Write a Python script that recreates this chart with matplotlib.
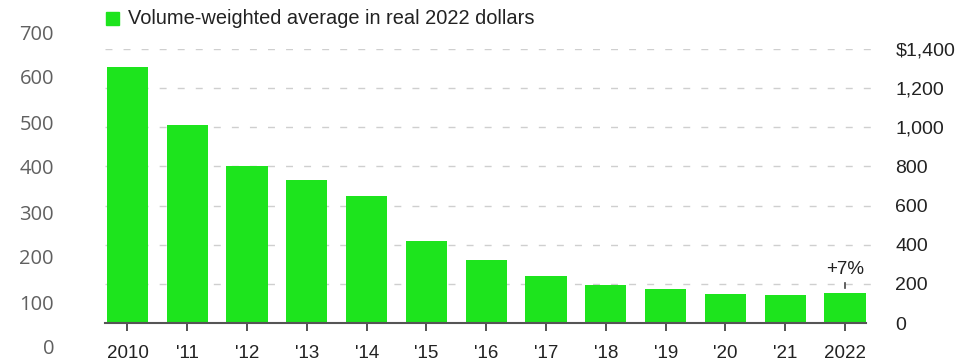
import matplotlib
matplotlib.use("Agg")
import matplotlib.pyplot as plt
import numpy as np

years = ["2010", "'11", "'12", "'13", "'14", "'15", "'16", "'17", "'18", "'19", "'20", "'21", "2022"]
prices = [1308, 1012, 800, 732, 650, 419, 320, 242, 194, 176, 146, 141, 151]
right_ticks = [0, 200, 400, 600, 800, 1000, 1200, 1400]
right_labels = ["0", "200", "400", "600", "800", "1,000", "1,200", "$1,400"]
left_ticks = [0, 100, 200, 300, 400, 500, 600, 700]
legend_label = "Volume-weighted average in real 2022 dollars"
annotation = "+7%"

W, H = 975, 361
fig = plt.figure(figsize=(W / 100, H / 100), dpi=100)
GREEN = "#1de41d"

def px_axes(x0, y0, x1, y1):
    # pixel coords from top-left
    return [x0 / W, 1 - y1 / H, (x1 - x0) / W, (y1 - y0) / H]

# left ghost axis (0-700)
axl = fig.add_axes(px_axes(54, 32, 100, 347))
axl.set_ylim(0, 700)
axl.set_yticks(left_ticks)
axl.set_yticklabels([str(v) for v in left_ticks], fontfamily="Open Sans", fontsize=14.5, color="#606060")
axl.tick_params(axis="y", length=0, pad=0)
axl.set_xticks([])
for s in axl.spines.values():
    s.set_visible(False)
axl.patch.set_alpha(0)

# main axes
ax = fig.add_axes(px_axes(105, 49, 880, 323))
ax.patch.set_alpha(0)
x = np.arange(len(years))
ax.set_xlim(-0.376, 12.585)
ax.set_ylim(0, 1400)
ax.bar(x, prices, width=0.69, color=GREEN, zorder=2)
for t in right_ticks[1:]:
    ax.axhline(t, color="#cfcfcf", lw=1.0, dashes=(5, 8), zorder=1)
ax.yaxis.tick_right()
ax.set_yticks(right_ticks)
ax.set_yticklabels(right_labels, fontfamily="Liberation Sans", fontsize=14, color="#222222")
ax.tick_params(axis="y", length=0, pad=11)
ax.set_xticks(x)
ax.set_xticklabels(years, fontfamily="Liberation Sans", fontsize=13.5, color="#222222")
ax.tick_params(axis="x", length=6, width=1.3, color="#444444", pad=10)
for s in ["top", "left", "right"]:
    ax.spines[s].set_visible(False)
ax.spines["bottom"].set_color("#555555")
ax.spines["bottom"].set_linewidth(1.5)
ax.spines["bottom"].set_bounds(-0.376, 12.35)
ax.spines["bottom"].set_zorder(3)

# annotation on last bar
last = len(years) - 1
ax.plot([last, last], [prices[last] + 30, prices[last] + 55], color="#444444", lw=1.2, zorder=3)
ax.text(last, prices[last] + 80, annotation, ha="center", va="bottom",
        fontfamily="Liberation Sans", fontsize=13.5, color="#222222")

# legend
fig.patches.append(matplotlib.patches.Rectangle((106 / W, 1 - 25 / H), 13 / W, 13 / H,
                                                 transform=fig.transFigure, color=GREEN))
fig.text(128 / W, 1 - 18.5 / H, legend_label, ha="left", va="center",
         fontfamily="Liberation Sans", fontsize=14.4, color="#222222")

fig.savefig("out.png", dpi=100)
